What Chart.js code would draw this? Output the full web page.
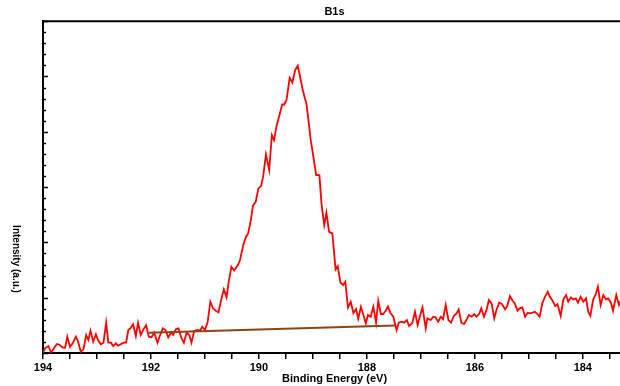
<!DOCTYPE html>
<html>
<head>
<meta charset="utf-8">
<script src="https://cdn.jsdelivr.net/npm/chart.js@4.4.1/dist/chart.umd.min.js"></script>
<style>
  html, body { margin: 0; padding: 0; background: #fff; overflow: hidden; }
  #wrap { width: 620px; height: 386px; overflow: hidden; }
</style>
</head>
<body>
<div id="wrap"><canvas id="chart-b1s" width="669" height="386"></canvas></div>
<script>
// binding energy (eV)
const energies = [
  194.00,193.96,193.90,193.85,193.78,193.74,193.69,193.64,193.59,193.55,
  193.50,193.45,193.39,193.35,193.30,193.25,193.20,193.16,193.12,193.07,
  193.02,192.98,192.93,192.88,192.83,192.79,192.74,192.70,192.65,192.61,
  192.56,192.51,192.46,192.42,192.38,192.33,192.28,192.24,192.19,192.14,
  192.09,192.04,191.99,191.94,191.88,191.83,191.78,191.73,191.68,191.63,
  191.59,191.54,191.49,191.44,191.39,191.34,191.29,191.25,191.20,191.14,
  191.09,191.05,191.00,190.95,190.90,190.85,190.80,190.75,190.70,190.65,
  190.60,190.56,190.51,190.46,190.39,190.35,190.29,190.24,190.20,190.15,
  190.11,190.06,190.01,189.96,189.92,189.87,189.81,189.76,189.72,189.67,
  189.62,189.57,189.53,189.49,189.43,189.38,189.33,189.28,189.24,189.19,
  189.15,189.12,189.09,189.04,188.99,188.94,188.88,188.84,188.79,188.75,
  188.70,188.64,188.58,188.54,188.49,188.44,188.40,188.35,188.30,188.25,
  188.20,188.16,188.11,188.07,188.02,187.98,187.93,187.88,187.83,187.79,
  187.74,187.70,187.65,187.61,187.56,187.51,187.45,187.41,187.36,187.31,
  187.26,187.22,187.16,187.11,187.06,187.02,186.97,186.91,186.88,186.82,
  186.77,186.73,186.68,186.63,186.59,186.54,186.49,186.44,186.39,186.34,
  186.30,186.25,186.20,186.15,186.11,186.06,186.01,185.97,185.92,185.88,
  185.83,185.78,185.74,185.69,185.64,185.60,185.55,185.50,185.44,185.40,
  185.35,185.30,185.26,185.21,185.17,185.12,185.07,185.02,184.98,184.93,
  184.89,184.84,184.80,184.75,184.70,184.65,184.61,184.56,184.51,184.47,
  184.41,184.36,184.31,184.27,184.22,184.18,184.13,184.09,184.04,183.99,
  183.94,183.90,183.86,183.81,183.76,183.72,183.67,183.62,183.57,183.53,
  183.48,183.44,183.38,183.33,183.28
];

// intensity (a.u.)
const intensities = [
  5,90,126,5,114,163,145,103,96,295,
  114,175,295,204,23,67,325,235,403,204,
  338,235,157,186,548,186,186,126,175,132,
  157,186,186,416,446,519,307,548,325,428,
  501,295,284,367,186,325,446,416,284,367,
  325,428,446,284,186,367,325,186,398,416,
  403,475,416,560,927,808,764,735,958,1151,
  1006,1288,1559,1491,1590,1681,1952,2102,2163,2403,
  2665,2734,2976,3018,3204,3591,3307,3939,3849,4120,
  4301,4494,4494,4572,4975,4892,5114,5195,5005,4770,
  4608,4512,4270,3849,3542,3216,3216,2692,2313,2535,
  2192,2163,1512,1572,1274,1229,1288,822,927,723,
  795,620,837,705,537,687,656,837,548,945,
  705,705,764,840,717,656,416,548,566,548,
  596,488,537,746,506,656,826,446,627,596,
  656,645,566,656,609,867,596,548,669,717,
  790,548,524,609,687,656,705,656,705,808,
  656,790,958,898,627,777,909,885,790,849,
  1030,945,898,764,808,826,656,728,717,728,
  746,705,656,898,1017,1108,1017,945,849,885,
  669,970,1048,927,1006,970,988,909,1017,927,
  988,746,669,958,1066,1198,867,1048,970,988,
  909,764,1048,867,994
];

// linear background under the peak
const baselineEnergies = [192.04, 187.48];
const baselineValues = [367, 497];

// x ticks every 0.5 eV, labels on even values
const xTickValues = [194, 193.5, 193, 192.5, 192, 191.5, 191, 190.5, 190, 189.5,
  189, 188.5, 188, 187.5, 187, 186.5, 186, 185.5, 185, 184.5, 184, 183.5];
const xTickLabels = [194, 192, 190, 188, 186, 184];

const FONT = "'Liberation Sans', Arial, sans-serif";

// inside ticks on the left axis, top frame line, rotated y title
const framePlugin = {
  id: "frame",
  afterDraw(chart) {
    const c = chart.ctx;
    const area = chart.chartArea;
    const y = chart.scales.y;
    c.save();
    c.strokeStyle = "#000";
    c.lineWidth = 1.5;
    for (let v = 0; v <= 6000; v += 200) {
      const py = Math.round(y.getPixelForValue(v)) + 0.5;
      const len = v % 1000 === 0 ? 5 : 3;
      c.beginPath();
      c.moveTo(area.left, py);
      c.lineTo(area.left + len, py);
      c.stroke();
    }
    c.lineWidth = 2;
    c.beginPath();
    c.moveTo(area.left - 1, area.top);
    c.lineTo(area.right, area.top);
    c.stroke();

    c.fillStyle = "#000";
    c.font = "bold 10px " + FONT;
    c.textAlign = "center";
    c.textBaseline = "middle";
    c.translate(16, 259);
    c.rotate(Math.PI / 2);
    c.fillText("Intensity (a.u.)", 0, 0);
    c.restore();
  }
};

const ctx = document.getElementById("chart-b1s");
new Chart(ctx, {
  type: "line",
  data: {
    datasets: [
      {
        label: "Background",
        data: baselineEnergies.map((e, i) => ({ x: e, y: baselineValues[i] })),
        borderColor: "#8B4513",
        borderWidth: 2,
        pointRadius: 0,
        tension: 0,
      },
      {
        label: "B1s",
        data: energies.map((e, i) => ({ x: e, y: intensities[i] })),
        borderColor: "#ff0000",
        borderWidth: 1.8,
        pointRadius: 0,
        tension: 0,
      },
    ],
  },
  options: {
    responsive: false,
    animation: false,
    layout: { padding: 0 },
    plugins: {
      legend: { display: false },
      tooltip: { enabled: false },
      title: {
        display: true,
        text: "B1s",
        color: "#000",
        font: { family: FONT, size: 11, weight: "bold" },
        padding: { top: 5, bottom: 3 },
      },
    },
    scales: {
      x: {
        type: "linear",
        reverse: true,
        min: 183.2,
        max: 194,
        afterBuildTicks: (scale) => {
          scale.ticks = xTickValues.map((v) => ({ value: v }));
        },
        afterFit: (scale) => { scale.height = 33; },
        ticks: {
          autoSkip: false,
          maxRotation: 0,
          padding: 2,
          color: "#000",
          font: { family: FONT, size: 11, weight: "bold" },
          callback: (value) => (xTickLabels.includes(value) ? String(value) : ""),
        },
        grid: { drawOnChartArea: false, tickLength: 6, color: "#000", lineWidth: 1.5 },
        border: { color: "#000", width: 2 },
        title: {
          display: true,
          text: "Binding Energy (eV)",
          color: "#000",
          font: { family: FONT, size: 11, weight: "bold" },
          padding: { top: 0, bottom: 0 },
        },
      },
      y: {
        min: 0,
        max: 6000,
        afterFit: (scale) => { scale.width = 43; },
        ticks: { display: false },
        grid: { display: false, drawTicks: false },
        border: { display: true, color: "#000", width: 2 },
      },
      // empty right-hand box, keeps the plot symmetric so the title centres on it
      yRight: {
        position: "right",
        min: 0,
        max: 6000,
        afterFit: (scale) => { scale.width = 43; },
        ticks: { display: false },
        grid: { display: false, drawTicks: false },
        border: { display: false },
      },
    },
  },
  plugins: [framePlugin],
});
</script>
</body>
</html>
